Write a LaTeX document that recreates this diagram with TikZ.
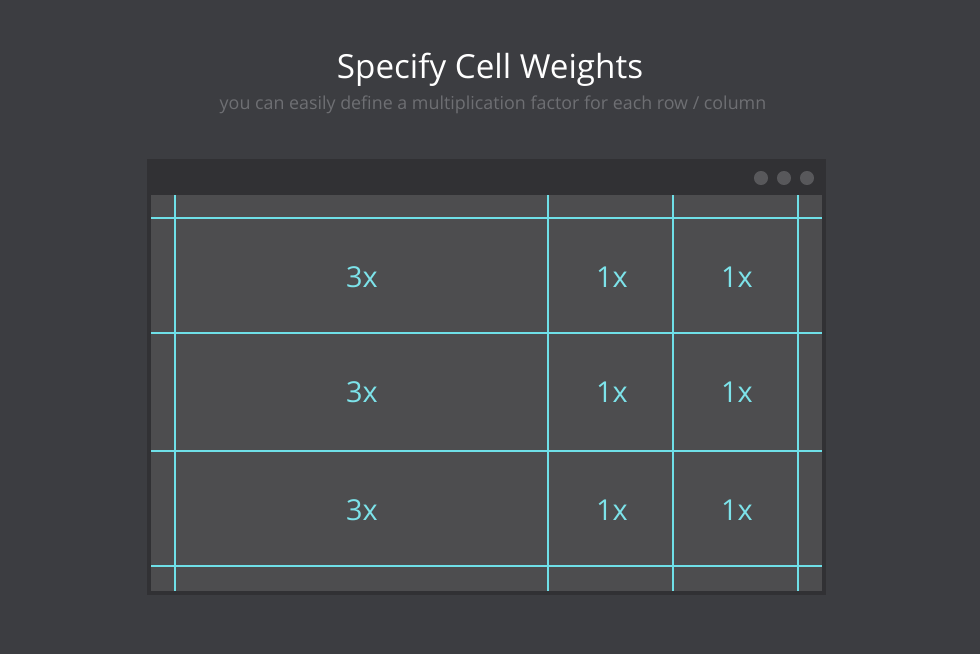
\documentclass[tikz,border=0pt]{standalone}
\usepackage{fontspec}
\setmainfont{Open Sans}
\usepackage{xcolor}
\usetikzlibrary{positioning}
\definecolor{bgdark}{HTML}{3C3D41}
\definecolor{winframe}{HTML}{313134}
\definecolor{cellgray}{HTML}{4D4D4F}
\definecolor{dotgray}{HTML}{58585B}
\definecolor{gridcyan}{HTML}{6FE0E8}
\definecolor{subgray}{HTML}{6E6F73}
\tikzset{
	gridline/.style={draw=gridcyan, line width=1.4pt},
	weightlabel/.style={text=gridcyan!90!white, font=\fontsize{20.5}{24}\selectfont, inner sep=0pt},
	winbutton/.style={circle, fill=dotgray, minimum size=10pt, inner sep=0pt}
}

\begin{document}
\begin{tikzpicture}[x=0.025cm, y=-0.025cm]
		\fill[bgdark] (0,0) rectangle (980,654);
		\useasboundingbox (0,0) rectangle (980,654);
		
		\node[text=white, font=\fontsize{23.6}{28}\selectfont] at (490,70) (title) {Specify Cell Weights};
		\node[text=subgray, font=\fontsize{12.7}{15}\selectfont] at (493,105) (subtitle) {you can easily define a multiplication factor for each row / column};
		
		%Window
		\fill[winframe] (147,159) rectangle (826,595);
		\fill[cellgray] (151,195) rectangle (822,591);
		\node[winbutton] at (761,178) (b1) {};
		\node[winbutton] at (784,178) (b2) {};
		\node[winbutton] at (807,178) (b3) {};
		
		%Lines
		\draw[gridline] (151,218) -- (822,218);
		\draw[gridline] (151,333) -- (822,333);
		\draw[gridline] (151,451) -- (822,451);
		\draw[gridline] (151,566) -- (822,566);
		\draw[gridline] (175,195) -- (175,591);
		\draw[gridline] (548,195) -- (548,591);
		\draw[gridline] (673,195) -- (673,591);
		\draw[gridline] (798,195) -- (798,591);
		
		\node[weightlabel] at (362,277) (w11) {3x};
		\node[weightlabel] at (612,277) (w12) {1x};
		\node[weightlabel] at (737,277) (w13) {1x};
		\node[weightlabel] at (362,392) (w21) {3x};
		\node[weightlabel] at (612,392) (w22) {1x};
		\node[weightlabel] at (737,392) (w23) {1x};
		\node[weightlabel] at (362,510) (w31) {3x};
		\node[weightlabel] at (612,510) (w32) {1x};
		\node[weightlabel] at (737,510) (w33) {1x};
	\end{tikzpicture}
\end{document}
